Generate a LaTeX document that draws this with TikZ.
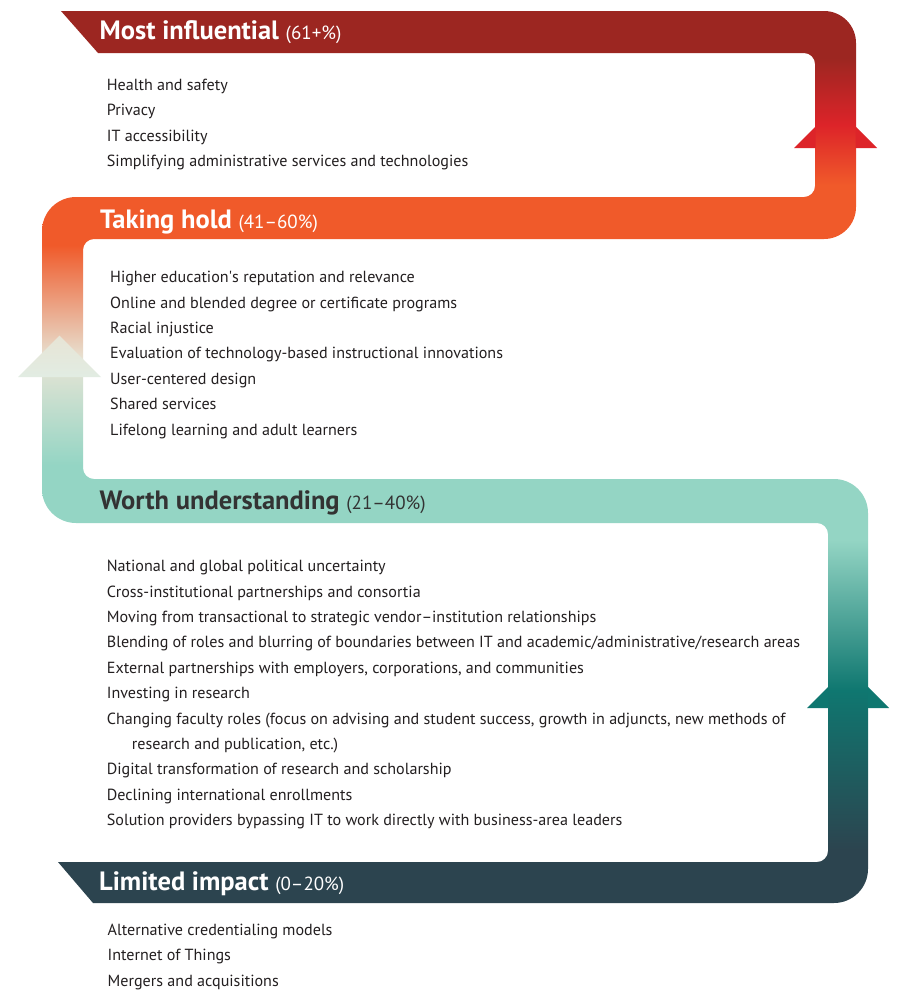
\documentclass[tikz,border=0pt]{standalone}
\usepackage{fontspec}
\setmainfont{PT Sans}
\usepackage{xcolor}
\usepackage{tikz}
\usetikzlibrary{positioning}
\definecolor{darkred}{HTML}{9C2621}
\definecolor{brightred}{HTML}{DD2429}
\definecolor{flame}{HTML}{F05A2A}
\definecolor{sand}{HTML}{E7E4D5}
\definecolor{mint}{HTML}{94D5C4}
\definecolor{deepteal}{HTML}{0F7770}
\definecolor{slate}{HTML}{2C444F}
\definecolor{ink}{HTML}{231F20}
\definecolor{worthink}{HTML}{333333}
% one vertical shading for the whole ribbon (path box = 25bp..75bp)
\pgfdeclareverticalshading{ribbon}{100bp}{color(0bp)=(slate); color(27.97bp)=(slate);
  color(36.94bp)=(deepteal); color(45.35bp)=(mint); color(49.55bp)=(mint);
  color(55.44bp)=(sand); color(61.88bp)=(flame); color(65.25bp)=(flame);
  color(68.61bp)=(brightred); color(72.37bp)=(darkred); color(100bp)=(darkred)}
\newcommand\rangefont{\fontsize{19}{22}\selectfont\mdseries}
\tikzset{
  band/.style={shading=ribbon},
  head/.style={anchor=base west,inner sep=0pt,text=white,
    font=\fontsize{26.5}{30}\selectfont\bfseries},
  itemlist/.style={anchor=base west,inner sep=0pt,align=left,text=ink,
    font=\fontsize{16.1}{25.4}\selectfont}
}

\begin{document}
\begin{tikzpicture}[x=1pt,y=-1pt]
\useasboundingbox[fill=white] (0,0) rectangle (900,996);
% ribbon
\path[band] (61,11) [rounded corners=32pt] -- (856,11) -- (856,239)
  [rounded corners=11pt] -- (83,239) -- (83,479)
  [rounded corners=34pt] -- (868,479) -- (868,903)
  [sharp corners] -- (93,903) -- (58,862)
  [rounded corners=11pt] -- (828,862) -- (828,523)
  [rounded corners=34pt] -- (42,523) -- (42,197)
  [rounded corners=11pt] -- (815,197) -- (815,53)
  [sharp corners] -- (98,53) -- cycle;
% arrow heads
\fill[brightred] (794,148) -- (815.5,126.5) -- (815.5,148) -- cycle;
\fill[brightred] (855.5,126.5) -- (877,148) -- (855.5,148) -- cycle;
\shade[top color=sand,bottom color=sand!70!mint!60!white] (18,377) -- (59.5,335.5) -- (101,377) -- cycle;
\fill[deepteal] (807,708) -- (828.5,686.5) -- (828.5,708) -- cycle;
\fill[deepteal] (867.5,686.5) -- (889,708) -- (867.5,708) -- cycle;

% lists sit on the baseline of their last line
\node[head] (most) at (99.5,39.3) {Most influential {\rangefont(61+\%)}};
\node[itemlist] (mostlist) at (106.7,166.7) {Health and safety\\Privacy\\IT accessibility\\
  Simplifying administrative services and technologies};

\node[head] (hold) at (100,228.3) {Taking hold {\rangefont(41--60\%)}};
\node[itemlist] (holdlist) at (110,435.1) {Higher education\textquotesingle s reputation and relevance\\
  Online and blended degree or certificate programs\\Racial injustice\\
  Evaluation of technology-based instructional innovations\\User-centered design\\
  Shared services\\Lifelong learning and adult learners};

\node[head,text=worthink] (worth) at (99.5,509.3) {Worth understanding {\rangefont(21--40\%)}};
\node[itemlist] (worthlist) at (106.7,825.7) {National and global political uncertainty\\
  Cross-institutional partnerships and consortia\\
  Moving from transactional to strategic vendor--institution relationships\\
  Blending of roles and blurring of boundaries between IT and academic/administrative/research areas\\
  External partnerships with employers, corporations, and communities\\
  Investing in research\\
  Changing faculty roles (focus on advising and student success, growth in adjuncts, new methods of\\
  \hspace*{25pt}research and publication, etc.)\\
  Digital transformation of research and scholarship\\
  Declining international enrollments\\
  Solution providers bypassing IT to work directly with business-area leaders};

\node[head] (limited) at (99,890) {Limited impact {\rangefont(0--20\%)}};
\node[itemlist] (limitedlist) at (107.5,986) {Alternative credentialing models\\
  Internet of Things\\Mergers and acquisitions};
\end{tikzpicture}
\end{document}
